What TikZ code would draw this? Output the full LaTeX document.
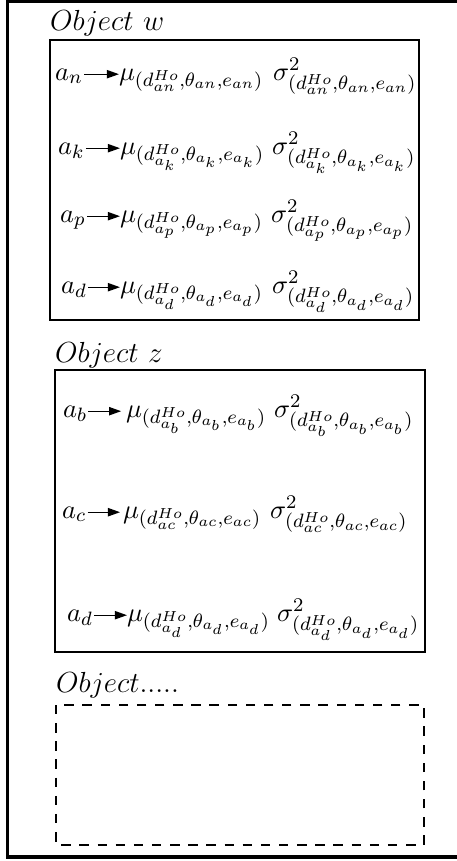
\documentclass[tikz,border=0pt,11pt]{standalone}
\usetikzlibrary{arrows.meta}
\begin{document}
\begin{tikzpicture}[x=0.4132pt,y=-0.4132pt,
  font=\fontsize{10.95}{13.6}\selectfont,
  lbl/.style={anchor=base west, inner sep=0pt, outer sep=0pt},
  ttl/.style={anchor=base west, inner sep=0pt, outer sep=0pt, font=\fontsize{12}{14}\selectfont},
  arr/.style={-{Triangle[length=5pt,width=3.4pt]}, line width=0.56pt, shorten <=0.6pt},
  objbox/.style={line width=0.62pt},
  dashbox/.style={line width=1.05pt, dash pattern=on 3.9pt off 3.6pt},
  frame/.style={line width=1.55pt}]
\useasboundingbox (0,0) rectangle (457,861);
\clip (0,0) rectangle (457,861);
\draw[frame] (7.5,1.5) rectangle (490,857);

% Object w
\node[ttl] (tw) at (50,31) {$Object\ w$};
\draw[objbox] (50,40) rectangle (419,320);

\node[lbl] (an) at (55,80) {$a_n$};
\node[lbl] (mun) at (119,80) {$\mu_{(d^{Ho}_{an},\theta_{an},e_{an})}$};
\node[lbl] (sn) at (273,80) {$\sigma^2_{(d^{Ho}_{an},\theta_{an},e_{an})}$};
\draw[arr] ([yshift=2.4pt]an.base east) -- ([yshift=2.4pt]mun.base west);

\node[lbl] (ak) at (58,154) {$a_k$};
\node[lbl] (muk) at (120,154) {$\mu_{(d^{Ho}_{a_k},\theta_{a_k},e_{a_k})}$};
\node[lbl] (sk) at (272,154) {$\sigma^2_{(d^{Ho}_{a_k},\theta_{a_k},e_{a_k})}$};
\draw[arr] ([yshift=2.4pt]ak.base east) -- ([yshift=2.4pt]muk.base west);

\node[lbl] (ap) at (60,222) {$a_p$};
\node[lbl] (mup) at (120,222) {$\mu_{(d^{Ho}_{a_p},\theta_{a_p},e_{a_p})}$};
\node[lbl] (sp) at (271,222) {$\sigma^2_{(d^{Ho}_{a_p},\theta_{a_p},e_{a_p})}$};
\draw[arr] ([yshift=2.4pt]ap.base east) -- ([yshift=2.4pt]mup.base west);

\node[lbl] (ad) at (61,293) {$a_d$};
\node[lbl] (mud) at (120,293) {$\mu_{(d^{Ho}_{a_d},\theta_{a_d},e_{a_d})}$};
\node[lbl] (sd) at (272,293) {$\sigma^2_{(d^{Ho}_{a_d},\theta_{a_d},e_{a_d})}$};
\draw[arr] ([yshift=2.4pt]ad.base east) -- ([yshift=2.4pt]mud.base west);

% Object z
\node[ttl] (tz) at (55,362) {$Object\ z$};
\draw[objbox] (55,370) rectangle (425,652);

\node[lbl] (ab) at (63,417) {$a_b$};
\node[lbl] (mub) at (126,417) {$\mu_{(d^{Ho}_{a_b},\theta_{a_b},e_{a_b})}$};
\node[lbl] (sb) at (274,417) {$\sigma^2_{(d^{Ho}_{a_b},\theta_{a_b},e_{a_b})}$};
\draw[arr, shorten >=2pt] ([yshift=2.4pt]ab.base east) -- ([yshift=2.4pt]mub.base west);

\node[lbl] (ac) at (62,518) {$a_c$};
\node[lbl] (muc) at (123,518) {$\mu_{(d^{Ho}_{ac},\theta_{ac},e_{ac})}$};
\node[lbl] (sc) at (270,518) {$\sigma^2_{(d^{Ho}_{ac},\theta_{ac},e_{ac})}$};
\draw[arr, shorten >=1.2pt] ([yshift=2.4pt]ac.base east) -- ([yshift=2.4pt]muc.base west);

\node[lbl] (azd) at (67,621) {$a_d$};
\node[lbl] (muzd) at (127,621) {$\mu_{(d^{Ho}_{a_d},\theta_{a_d},e_{a_d})}$};
\node[lbl] (szd) at (277,621) {$\sigma^2_{(d^{Ho}_{a_d},\theta_{a_d},e_{a_d})}$};
\draw[arr] ([yshift=2.4pt]azd.base east) -- ([yshift=2.4pt]muzd.base west);

% Object .....
\node[ttl] (to) at (56,692) {$Object.....$};
\draw[dashbox] (56,705) rectangle (424,845);
\end{tikzpicture}
\end{document}
